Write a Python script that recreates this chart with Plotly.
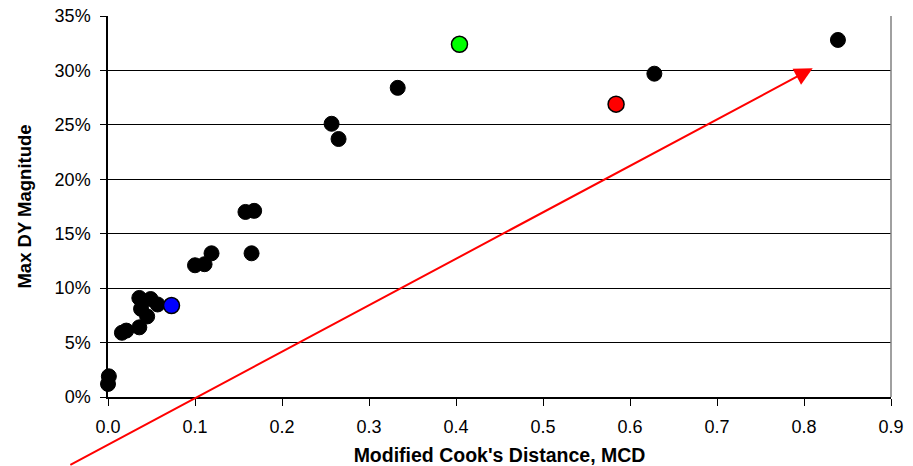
import plotly.graph_objects as go

# Black data points
mcd_black = [0.001, 0.000, 0.016, 0.021, 0.036, 0.036, 0.049, 0.038, 0.045, 0.057,
             0.100, 0.111, 0.119, 0.158, 0.168, 0.165, 0.257, 0.265, 0.333, 0.628, 0.839]
dy_black = [0.019, 0.012, 0.059, 0.061, 0.064, 0.091, 0.090, 0.081, 0.074, 0.085,
            0.121, 0.122, 0.132, 0.170, 0.171, 0.132, 0.251, 0.237, 0.284, 0.297, 0.328]

# Highlighted points
mcd_hi = [0.073, 0.404, 0.584]
dy_hi = [0.084, 0.324, 0.269]
hi_colors = ["#0000ff", "#00ff00", "#ff0000"]

# Arrow (tail -> head)
arrow_tail = (-0.045, -0.063)
arrow_head = (0.81, 0.302)

x_ticks = [0.0, 0.1, 0.2, 0.3, 0.4, 0.5, 0.6, 0.7, 0.8, 0.9]
y_ticks = [0, 0.05, 0.10, 0.15, 0.20, 0.25, 0.30, 0.35]

font = "Liberation Sans, Arial, sans-serif"

fig = go.Figure()
fig.add_trace(go.Scatter(x=mcd_black, y=dy_black, mode="markers",
                         marker=dict(size=15, color="black", line=dict(color="black", width=1)),
                         showlegend=False, cliponaxis=False))
fig.add_trace(go.Scatter(x=mcd_hi, y=dy_hi, mode="markers",
                         marker=dict(size=16, color=hi_colors, line=dict(color="black", width=1.5)),
                         showlegend=False, cliponaxis=False))

fig.add_annotation(x=arrow_head[0], y=arrow_head[1], ax=arrow_tail[0], ay=arrow_tail[1],
                   xref="x", yref="y", axref="x", ayref="y", text="", showarrow=True,
                   arrowhead=2, arrowsize=1.8, arrowwidth=2, arrowcolor="#ff0000")

fig.add_shape(type="line", xref="paper", yref="paper", x0=1, x1=1, y0=0, y1=1,
              line=dict(color="#808080", width=1.5))

fig.update_layout(
    width=913, height=466,
    margin=dict(l=108, r=22, t=16, b=69, autoexpand=False),
    plot_bgcolor="white", paper_bgcolor="white",
    font=dict(family=font, color="black"),
    xaxis=dict(range=[0, 0.9], tickvals=x_ticks, tickformat=".1f", automargin=False,
               showgrid=False, zeroline=False, showline=True, linecolor="black", linewidth=1.5,
               ticks="outside", ticklen=7, tickcolor="black", tickfont=dict(size=18),
               ticklabelstandoff=6,
               title=dict(text="<b>Modified Cook's Distance, MCD</b>", font=dict(size=19.5), standoff=14)),
    yaxis=dict(range=[0, 0.35], tickvals=y_ticks, tickformat=".0%", automargin=False,
               showgrid=True, gridcolor="black", gridwidth=1, zeroline=False,
               showline=True, linecolor="black", linewidth=1.5,
               ticks="outside", ticklen=6, tickcolor="black", tickfont=dict(size=18),
               ticklabelstandoff=6,
               title=dict(text="<b>Max DY Magnitude</b>", font=dict(size=18.5), standoff=18)),
)

fig.write_html("out.html")
